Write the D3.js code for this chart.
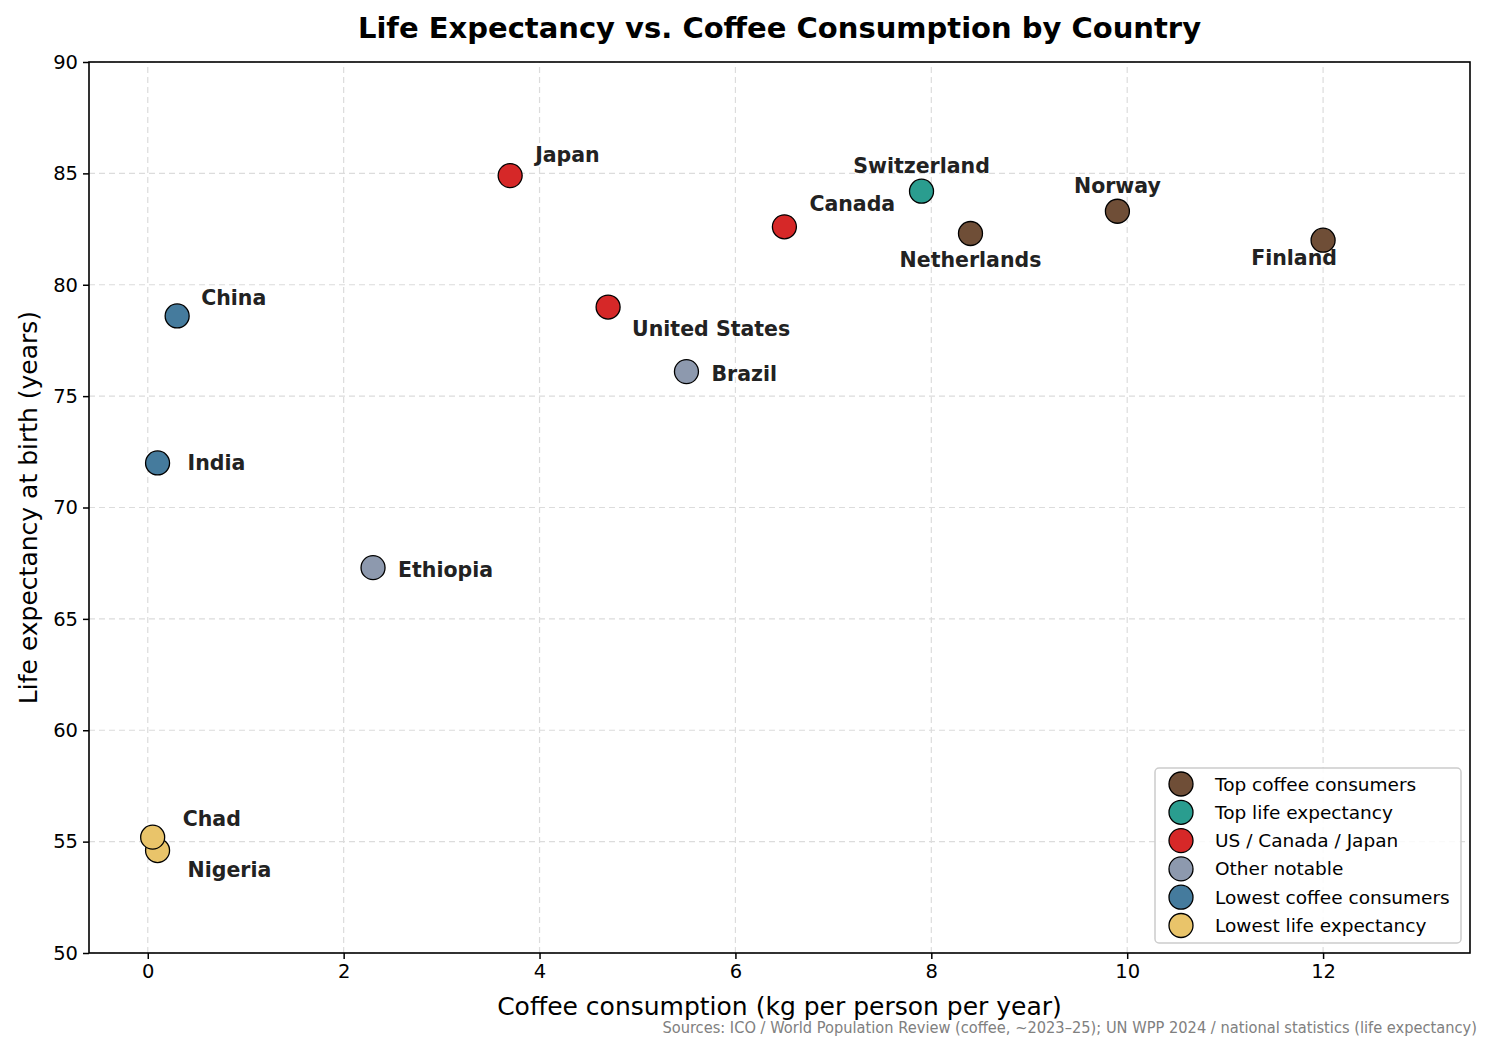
<!DOCTYPE html>
<html>
<head>
<meta charset="utf-8">
<script src="https://cdn.jsdelivr.net/npm/d3@7"></script>
<style>
  body { margin: 0; background: #fff; }
  text { font-family: "DejaVu Sans", sans-serif; }
</style>
</head>
<body>
<div id="chart"></div>
<script>
// groups, in legend order
var groups = ["Top coffee consumers", "Top life expectancy", "US / Canada / Japan",
  "Other notable", "Lowest coffee consumers", "Lowest life expectancy"]
var groupColors = ["#6F4E37", "#2A9D8F", "#D62828", "#8D99AE", "#457B9D", "#E9C46A"]

// countries
var countries = ["Finland", "Norway", "Netherlands", "Switzerland", "United States", "Canada", "Japan",
  "Brazil", "Ethiopia", "China", "India", "Nigeria", "Chad"]
var coffee = [12.0, 9.9, 8.4, 7.9, 4.7, 6.5, 3.7, 5.5, 2.3, 0.3, 0.1, 0.1, 0.05]
var lifeExp = [82.0, 83.3, 82.3, 84.2, 79.0, 82.6, 84.9, 76.1, 67.3, 78.6, 72.0, 54.6, 55.2]
var countryGroup = [0, 0, 0, 1, 2, 2, 2, 3, 3, 4, 4, 5, 5]

var xTicks = [0, 2, 4, 6, 8, 10, 12]
var yTicks = [50, 55, 60, 65, 70, 75, 80, 85, 90]

// label placement (offset from point, in px)
var labelPos = {
  "Finland": [-29, 18, "middle"],
  "Norway": [0, -25, "middle"],
  "Netherlands": [0, 26, "middle"],
  "Switzerland": [0, -25, "middle"],
  "United States": [24, 22, "start"],
  "Canada": [25, -23, "start"],
  "Japan": [25, -21, "start"],
  "Brazil": [25, 2, "start"],
  "Ethiopia": [25, 2, "start"],
  "China": [24, -18, "start"],
  "India": [30, 0, "start"],
  "Nigeria": [30, 19, "start"],
  "Chad": [30, -18, "start"]
}

var width = 1492, height = 1050
var margin = { left: 89, right: 22, top: 62, bottom: 97 }

var svg = d3.select("#chart").append("svg")
  .attr("width", width)
  .attr("height", height)

var x = d3.scaleLinear().domain([-0.6, 13.5]).range([margin.left, width - margin.right])
var y = d3.scaleLinear().domain([50, 90]).range([height - margin.bottom, margin.top])

var data = countries.map(function (c, i) {
  return { name: c, x: coffee[i], y: lifeExp[i], g: countryGroup[i] }
})

// grid
svg.append("g").selectAll("line").data(xTicks).enter().append("line")
  .attr("x1", function (d) { return x(d) }).attr("x2", function (d) { return x(d) })
  .attr("y1", y(50)).attr("y2", y(90))
  .attr("stroke", "#dcdcdc").attr("stroke-dasharray", "6,4").attr("stroke-width", 1.2)
svg.append("g").selectAll("line").data(yTicks).enter().append("line")
  .attr("y1", function (d) { return y(d) }).attr("y2", function (d) { return y(d) })
  .attr("x1", x.range()[0]).attr("x2", x.range()[1])
  .attr("stroke", "#dcdcdc").attr("stroke-dasharray", "6,4").attr("stroke-width", 1.2)

// axes
var xAxis = svg.append("g")
  .attr("transform", "translate(0," + y(50) + ")")
  .call(d3.axisBottom(x).tickValues(xTicks).tickSize(6).tickPadding(5).tickSizeOuter(0))
var yAxis = svg.append("g")
  .attr("transform", "translate(" + margin.left + ",0)")
  .call(d3.axisLeft(y).tickValues(yTicks).tickSize(6).tickPadding(5).tickSizeOuter(0))
;[xAxis, yAxis].forEach(function (a) {
  a.selectAll("text").style("font-size", "19.5px").style("font-family", "DejaVu Sans").attr("fill", "#000")
  a.selectAll("line").attr("stroke", "#000").attr("stroke-width", 1.5)
  a.select(".domain").remove()
})

// frame
svg.append("rect")
  .attr("x", x.range()[0]).attr("y", y(90))
  .attr("width", x.range()[1] - x.range()[0]).attr("height", y(50) - y(90))
  .attr("fill", "none").attr("stroke", "#000").attr("stroke-width", 1.6)

// points
svg.append("g").selectAll("circle").data(data).enter().append("circle")
  .attr("cx", function (d) { return x(d.x) })
  .attr("cy", function (d) { return y(d.y) })
  .attr("r", 12)
  .attr("fill", function (d) { return groupColors[d.g] })
  .attr("stroke", "#000").attr("stroke-width", 1.3)

// labels
svg.append("g").selectAll("text").data(data).enter().append("text")
  .attr("x", function (d) { return x(d.x) + labelPos[d.name][0] })
  .attr("y", function (d) { return y(d.y) + labelPos[d.name][1] })
  .attr("text-anchor", function (d) { return labelPos[d.name][2] })
  .attr("dominant-baseline", "central")
  .style("font-size", "20.5px").style("font-weight", "bold")
  .attr("fill", "#222")
  .text(function (d) { return d.name })

// title + axis labels
svg.append("text").attr("x", (x.range()[0] + x.range()[1]) / 2).attr("y", 28)
  .attr("text-anchor", "middle").attr("dominant-baseline", "central")
  .style("font-size", "29px").style("font-weight", "bold")
  .text("Life Expectancy vs. Coffee Consumption by Country")
svg.append("text").attr("x", (x.range()[0] + x.range()[1]) / 2).attr("y", 1006)
  .attr("text-anchor", "middle").attr("dominant-baseline", "central")
  .style("font-size", "25px")
  .text("Coffee consumption (kg per person per year)")
svg.append("text")
  .attr("transform", "translate(28," + (y(70)) + ") rotate(-90)")
  .attr("text-anchor", "middle").attr("dominant-baseline", "central")
  .style("font-size", "25px")
  .text("Life expectancy at birth (years)")

// source note, squeezed horizontally to fit like the original
var note = svg.append("text")
  .attr("text-anchor", "end").attr("dominant-baseline", "central")
  .style("font-size", "15px").attr("fill", "#808080")
  .text("Sources: ICO / World Population Review (coffee, ~2023–25); UN WPP 2024 / national statistics (life expectancy)")
var noteW = note.node().getComputedTextLength()
note.attr("transform", "translate(1477,1027) scale(" + (815 / noteW) + ",1)")

// legend
var legend = svg.append("g").attr("transform", "translate(1155,768)")
legend.append("rect").attr("width", 306).attr("height", 175).attr("rx", 4)
  .attr("fill", "#fff").attr("fill-opacity", 0.85).attr("stroke", "#cccccc").attr("stroke-width", 1.5)
var rows = legend.selectAll("g.row").data(groups).enter().append("g")
  .attr("class", "row")
  .attr("transform", function (d, i) { return "translate(0," + (16 + i * 28.3) + ")" })
rows.append("circle").attr("cx", 26).attr("r", 12)
  .attr("fill", function (d, i) { return groupColors[i] })
  .attr("stroke", "#000").attr("stroke-width", 1.3)
rows.append("text").attr("x", 60).attr("dominant-baseline", "central")
  .style("font-size", "18.5px")
  .text(function (d) { return d })
</script>
</body>
</html>
